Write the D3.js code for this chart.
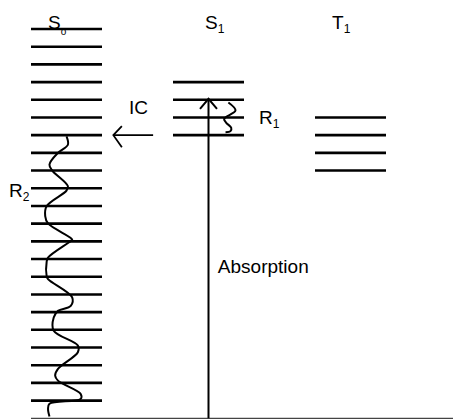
<!DOCTYPE html>
<html>
<head>
<meta charset="utf-8">
<script src="https://cdn.jsdelivr.net/npm/d3@7"></script>
<style>
  body { margin: 0; background: #fff; }
  text { font-family: "Liberation Sans", Arial, sans-serif; fill: #000; }
</style>
</head>
<body>
<div id="chart"></div>
<script>
// energy levels (energy units, 1 = one vibrational spacing); column index 0=S0, 1=S1, 2=T1
var states = ["S0", "S1", "T1"];
var s0Levels = d3.range(1, 23);          // 22 vibrational levels of S0
var s1Levels = [16, 17, 18, 19];
var t1Levels = [14, 15, 16, 17];

// absorption: ground (0) up to S1 level 18
var absorption = {col: 1.25, from: 0, to: 18};
// internal conversion: S1 -> S0 at level 16
var ic = {e: 16, from: 0.86, to: 0.58};

// relaxation squiggles, [column units, energy]
var r1Path = [[1.39, 17.85], [1.44, 17.4], [1.36, 16.92], [1.375, 16.7], [1.41, 16.42], [1.405, 16.23], [1.37, 16.17]];
var r2Path = [[0.25, 15.93], [0.26, 15.46], [0.19, 15.0], [0.13, 14.34], [0.15, 14.0], [0.26, 13.12], [0.25, 12.87],
              [0.11, 11.99], [0.10, 11.43], [0.12, 11.01], [0.29, 10.11], [0.28, 10.02], [0.12, 9.08], [0.11, 8.82],
              [0.11, 8.05], [0.12, 7.86], [0.29, 6.83], [0.28, 6.35], [0.19, 6.07], [0.16, 5.70], [0.16, 4.95],
              [0.33, 4.11], [0.33, 3.73], [0.19, 2.79], [0.17, 2.41], [0.19, 2.13], [0.35, 1.38], [0.35, 1.10],
              [0.13, 0.82], [0.12, 0.54], [0.13, 0.10]];

// labels: main text, subscript, position [column units, energy]
var labels = [
  {t: "S", sub: "o", x: 0.12, e: 22, subSize: 10, subDy: 5.5},
  {t: "S", sub: "1", x: 1.225, e: 22, subSize: 12, subDy: 4},
  {t: "T", sub: "1", x: 2.12, e: 22, subSize: 12, subDy: 4},
  {t: "R", sub: "1", x: 1.606, e: 16.63, subSize: 12, subDy: 4},
  {t: "R", sub: "2", x: -0.155, e: 12.51, subSize: 12, subDy: 4},
  {t: "IC", sub: "", x: 0.69, e: 17.2},
  {t: "Absorption", sub: "", x: 1.316, e: 8.21}
];

var width = 453, height = 419;
var levelWidth = 0.5;

var X = d3.scaleLinear().domain([0, 1]).range([31, 173]),
    Y = d3.scaleLinear().domain([0, 22]).range([418.3, 29]);

var svg = d3.select("#chart").append("svg")
    .attr("width", width)
    .attr("height", height);

// ground baseline
svg.append("line")
    .attr("x1", X(0)).attr("x2", width)
    .attr("y1", Y(0)).attr("y2", Y(0))
    .attr("stroke", "#444").attr("stroke-width", 1.2);

function drawLevels(levels, col) {
    svg.append("g").selectAll("line")
        .data(levels).enter().append("line")
        .attr("x1", X(col)).attr("x2", X(col + levelWidth))
        .attr("y1", function(d) { return Y(d); })
        .attr("y2", function(d) { return Y(d); })
        .attr("stroke", "#000").attr("stroke-width", 2.6);
}
drawLevels(s0Levels, 0);
drawLevels(s1Levels, 1);
drawLevels(t1Levels, 2);

// absorption arrow
var ax = X(absorption.col), aTop = Y(absorption.to);
svg.append("line")
    .attr("x1", ax).attr("x2", ax)
    .attr("y1", Y(absorption.from)).attr("y2", aTop - 1)
    .attr("stroke", "#000").attr("stroke-width", 2);
svg.append("path")
    .attr("d", "M" + (ax - 8.5) + "," + (aTop + 9) + " L" + ax + "," + (aTop - 1) + " L" + (ax + 8.5) + "," + (aTop + 9))
    .attr("fill", "none").attr("stroke", "#000").attr("stroke-width", 2);

// internal conversion arrow
var iy = Y(ic.e), ix = X(ic.to);
svg.append("line")
    .attr("x1", X(ic.from)).attr("x2", ix)
    .attr("y1", iy).attr("y2", iy)
    .attr("stroke", "#000").attr("stroke-width", 1.6);
svg.append("path")
    .attr("d", "M" + (ix + 8.5) + "," + (iy - 9) + " L" + ix + "," + iy + " L" + (ix + 8.5) + "," + (iy + 12))
    .attr("fill", "none").attr("stroke", "#000").attr("stroke-width", 1.8);

// squiggles
var squiggle = d3.line()
    .x(function(d) { return X(d[0]); })
    .y(function(d) { return Y(d[1]); })
    .curve(d3.curveCatmullRom.alpha(0.5));

svg.append("path").attr("d", squiggle(r1Path))
    .attr("fill", "none").attr("stroke", "#000").attr("stroke-width", 2);
svg.append("path").attr("d", squiggle(r2Path))
    .attr("fill", "none").attr("stroke", "#000").attr("stroke-width", 2);

// labels
labels.forEach(function(l) {
    var t = svg.append("text")
        .attr("x", X(l.x)).attr("y", Y(l.e))
        .attr("font-size", 19)
        .text(l.t);
    if (l.sub) {
        t.append("tspan")
            .attr("dy", l.subDy)
            .attr("font-size", l.subSize)
            .text(l.sub);
    }
});
</script>
</body>
</html>
